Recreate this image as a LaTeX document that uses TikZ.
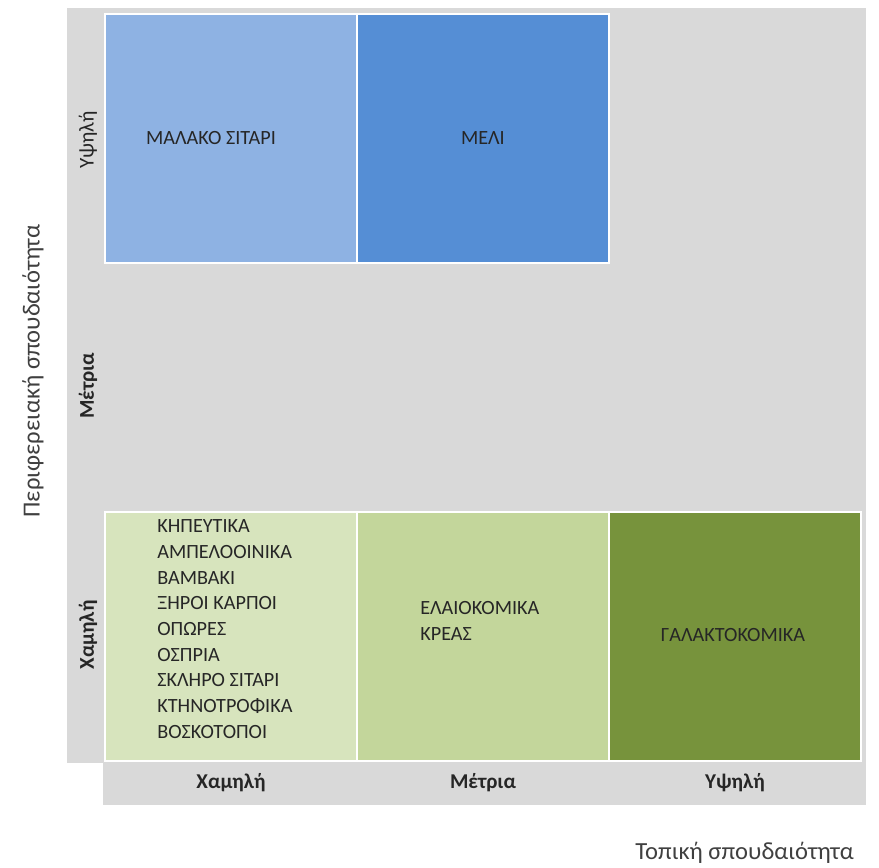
\documentclass[tikz,border=0pt]{standalone}
\usepackage{fontspec}
\setmainfont{Carlito}
\usetikzlibrary{positioning}
\definecolor{panelgray}{RGB}{217,217,217}
\definecolor{blueA}{RGB}{142,178,227}
\definecolor{blueB}{RGB}{85,142,213}
\definecolor{greenA}{RGB}{215,228,189}
\definecolor{greenB}{RGB}{195,214,155}
\definecolor{greenC}{RGB}{119,147,60}
\definecolor{inkgray}{RGB}{38,38,38}

\begin{document}
\begin{tikzpicture}[
    x=0.02cm, y=-0.02cm,
    cell/.style={draw=white, line width=1.6pt, minimum width=5.04cm, minimum height=4.98cm, inner sep=0pt},
    celltxt/.style={font=\fontsize{11.5}{14.6}\selectfont, text=inkgray, inner sep=0pt},
    axlbl/.style={font=\fontsize{12}{14}\selectfont\bfseries, text=inkgray},
    axtitle/.style={font=\fontsize{14}{16}\selectfont, text=black!75},
  ]

  \useasboundingbox (0,0) rectangle (879,868);

  % --- gray panels ---
  \fill[panelgray] (67,8) rectangle (866,763);
  \fill[panelgray] (103,763) rectangle (866,805);

  % --- cells: top row ---
  \node[cell, fill=blueA] (c11) at (231,138.5) {};
  \node[cell, fill=blueB] (c12) at (483,138.5) {};
  % --- cells: bottom row ---
  \node[cell, fill=greenA] (c31) at (231,636.5) {};
  \node[cell, fill=greenB] (c32) at (483,636.5) {};
  \node[cell, fill=greenC] (c33) at (735,636.5) {};

  % --- cell texts ---
  \node[celltxt] (t11) at (211,138) {ΜΑΛΑΚΟ ΣΙΤΑΡΙ};
  \node[celltxt] (t12) at (c12) {ΜΕΛΙ};
  \node[celltxt, align=left, anchor=west] (t31) at (157,629)
    {ΚΗΠΕΥΤΙΚΑ\\ ΑΜΠΕΛΟΟΙΝΙΚΑ\\ ΒΑΜΒΑΚΙ\\ ΞΗΡΟΙ ΚΑΡΠΟΙ\\ ΟΠΩΡΕΣ\\ ΟΣΠΡΙΑ\\ ΣΚΛΗΡΟ ΣΙΤΑΡΙ\\ ΚΤΗΝΟΤΡΟΦΙΚΑ\\ ΒΟΣΚΟΤΟΠΟΙ};
  \node[celltxt, align=left, anchor=west] (t32) at (420,621) {ΕΛΑΙΟΚΟΜΙΚΑ\\ ΚΡΕΑΣ};
  \node[celltxt] (t33) at (733,635) {ΓΑΛΑΚΤΟΚΟΜΙΚΑ};

  % --- row labels ---
  \node[axlbl, font=\fontsize{12}{14}\selectfont, rotate=90] (r1) at (88,140) {Υψηλή};
  \node[axlbl, rotate=90] (r2) at (88,386) {Μέτρια};
  \node[axlbl, rotate=90] (r3) at (88,635) {Χαμηλή};

  % --- column labels ---
  \node[axlbl] (k1) at (231,783) {Χαμηλή};
  \node[axlbl] (k2) at (483,783) {Μέτρια};
  \node[axlbl] (k3) at (735,783) {Υψηλή};

  % --- axis titles ---
  \node[axtitle, rotate=90] (ytitle) at (33,371) {Περιφερειακή σπουδαιότητα};
  \node[axtitle, anchor=east] (xtitle) at (860,853) {Τοπική σπουδαιότητα};

\end{tikzpicture}
\end{document}
